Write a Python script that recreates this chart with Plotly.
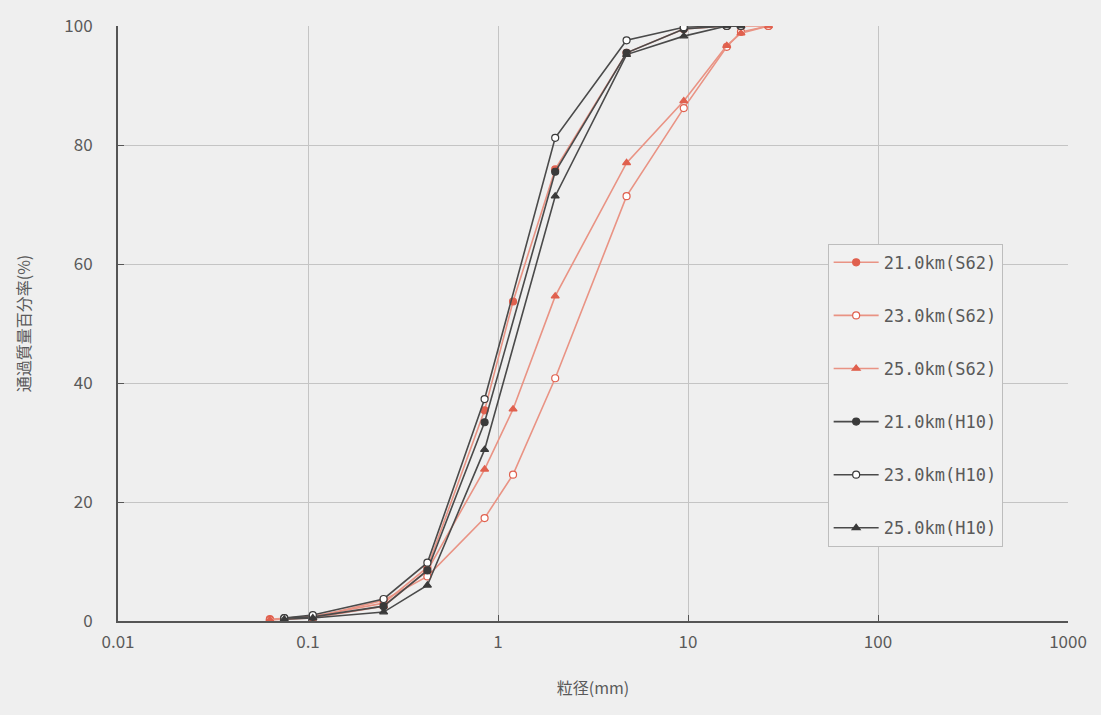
import plotly.graph_objects as go

# Sieve sizes (mm)
sieve_s62 = [0.063, 0.106, 0.25, 0.425, 0.85, 1.2, 2.0, 4.75, 9.5, 16, 19, 26.5]
sieve_h10 = [0.075, 0.106, 0.25, 0.425, 0.85, 2.0, 4.75, 9.5, 16, 19]

# Percent passing (%)
km21_s62 = [0.3, 0.8, 3.0, 9.0, 35.4, 53.7, 75.9, 95.5, 99.5, 100, 100, 100]
km23_s62 = [0.2, 0.6, 3.5, 7.5, 17.3, 24.6, 40.8, 71.4, 86.2, 96.5, 99.0, 100]
km25_s62 = [0.2, 0.5, 2.5, 8.5, 25.5, 35.6, 54.6, 77.0, 87.4, 96.7, 98.8, 100]
km21_h10 = [0.5, 0.7, 2.5, 8.5, 33.4, 75.5, 95.5, 99.5, 100, 100]
km23_h10 = [0.5, 1.0, 3.7, 9.8, 37.3, 81.2, 97.6, 99.8, 100, 100]
km25_h10 = [0.3, 0.5, 1.5, 6.0, 28.8, 71.4, 95.2, 98.3, 100, 100]

x_tickvals = [0.01, 0.1, 1, 10, 100, 1000]
x_ticktext = ["0.01", "0.1", "1", "10", "100", "1000"]
y_tickvals = [0, 20, 40, 60, 80, 100]

RED_LINE = "#e99384"
RED_MARK = "#e0604e"
DARK_LINE = "#4a4a4a"
DARK_MARK = "#3a3a3a"
BG = "#efefef"
TXT = "#5a5a5a"

series = [
    ("21.0km(S62)", sieve_s62, km21_s62, RED_LINE, RED_MARK, "circle", False),
    ("23.0km(S62)", sieve_s62, km23_s62, RED_LINE, RED_MARK, "circle", True),
    ("25.0km(S62)", sieve_s62, km25_s62, RED_LINE, RED_MARK, "triangle-up", False),
    ("21.0km(H10)", sieve_h10, km21_h10, DARK_LINE, DARK_MARK, "circle", False),
    ("23.0km(H10)", sieve_h10, km23_h10, DARK_LINE, DARK_MARK, "circle", True),
    ("25.0km(H10)", sieve_h10, km25_h10, DARK_LINE, DARK_MARK, "triangle-up", False),
]

fig = go.Figure()
for name, xs, ys, lc, mc, sym, hollow in series:
    fig.add_trace(go.Scatter(
        x=xs, y=ys, name=name, mode="lines+markers",
        legendgroup=name,
        line=dict(color=lc, width=1.6),
        marker=dict(
            symbol=sym, size=7,
            color="#ffffff" if hollow else mc,
            line=dict(color=mc, width=1.2),
        ),
    ))

fig.update_layout(
    width=1101, height=715,
    margin=dict(l=118, r=33, t=20, b=94),
    paper_bgcolor=BG, plot_bgcolor=BG,
    font=dict(family="Noto Sans CJK JP, Noto Sans, sans-serif", size=17, color=TXT),
    showlegend=True,
    legend=dict(
        x=0.747, y=0.634, xanchor="left", yanchor="top",
        bgcolor="#f1f1f1", bordercolor="#bdbdbd", borderwidth=1,
        font=dict(family="DejaVu Sans Mono, monospace", size=17, color=TXT),
        traceorder="grouped", tracegroupgap=28,
        itemwidth=45,
    ),
    xaxis=dict(
        type="log", range=[-2, 3],
        tickvals=x_tickvals, ticktext=x_ticktext,
        showgrid=True, gridcolor="#c4c4c4", gridwidth=1,
        showline=True, linecolor="#555555", linewidth=2, mirror=False,
        ticks="inside", ticklen=6, tickcolor="#555555",
        ticklabelstandoff=5,
        zeroline=False,
        title=dict(text="粒径(mm)", font=dict(size=16, color=TXT), standoff=30),
    ),
    yaxis=dict(
        range=[0, 100],
        tickvals=y_tickvals,
        showgrid=True, gridcolor="#c4c4c4", gridwidth=1,
        showline=True, linecolor="#555555", linewidth=2,
        ticks="inside", ticklen=6, tickcolor="#555555",
        ticklabelstandoff=20,
        zeroline=False,
        title=dict(text="通過質量百分率(%)", font=dict(size=16, color=TXT), standoff=30),
    ),
)

fig.write_html("out.html")
